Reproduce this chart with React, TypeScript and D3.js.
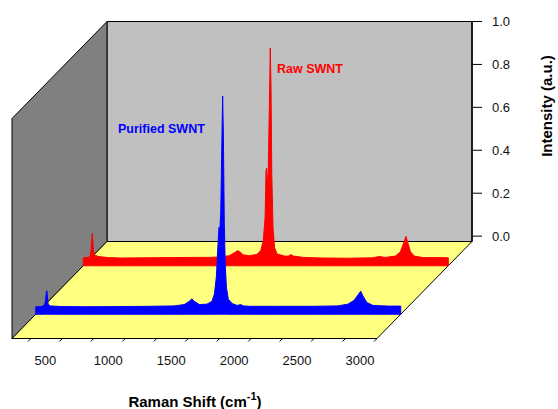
import * as d3 from 'd3'

// Raman spectra (shift in cm-1, intensity normalised)
const seriesNames = ['Purified SWNT', 'Raw SWNT']
const seriesColors = ['#0000ff', '#ff0000']

const purifiedShift = [
  100, 150, 170, 178, 184, 188, 192, 198, 210, 300, 500, 800, 1000, 1200, 1280, 1320, 1340, 1360,
  1400, 1460, 1500, 1520, 1535, 1548, 1556, 1562, 1570, 1578, 1585, 1591, 1598, 1606, 1615, 1630,
  1660, 1700, 1728, 1750, 1800, 2000, 2300, 2500, 2580, 2630, 2660, 2682, 2700, 2730, 2780, 2900, 3000,
]
const purifiedIntensity = [
  0.01, 0.011, 0.018, 0.04, 0.075, 0.085, 0.06, 0.025, 0.014, 0.011, 0.01, 0.011, 0.012, 0.014, 0.02, 0.035, 0.047, 0.035,
  0.02, 0.022, 0.035, 0.07, 0.15, 0.3, 0.38, 0.36, 0.45, 0.75, 0.992, 0.8, 0.4, 0.2, 0.1, 0.045,
  0.025, 0.016, 0.02, 0.014, 0.012, 0.012, 0.012, 0.014, 0.022, 0.04, 0.065, 0.082, 0.06, 0.03, 0.016, 0.013, 0.013,
]

const rawShift = [
  100, 140, 155, 163, 168, 172, 176, 182, 190, 220, 300, 400, 600, 800, 1000, 1100, 1200, 1260, 1300,
  1325, 1345, 1370, 1420, 1480, 1510, 1530, 1545, 1552, 1557, 1562, 1570, 1578, 1586, 1592, 1598, 1608,
  1620, 1640, 1700, 1730, 1750, 1770, 1850, 2000, 2200, 2400, 2450, 2500, 2580, 2620, 2645, 2664, 2680,
  2700, 2730, 2800, 2900, 3000,
]
const rawIntensity = [
  0.012, 0.014, 0.02, 0.05, 0.1, 0.126, 0.09, 0.04, 0.025, 0.018, 0.013, 0.011, 0.012, 0.013, 0.014, 0.014, 0.016, 0.022, 0.035,
  0.045, 0.04, 0.026, 0.022, 0.028, 0.045, 0.09, 0.2, 0.42, 0.43, 0.35, 0.42, 0.7, 0.99, 0.8, 0.4, 0.15,
  0.06, 0.03, 0.02, 0.02, 0.027, 0.02, 0.014, 0.011, 0.01, 0.012, 0.018, 0.014, 0.02, 0.04, 0.08, 0.112, 0.08,
  0.04, 0.02, 0.013, 0.013, 0.012,
]

const xMinorTicks = [250, 500, 750, 1000, 1250, 1500, 1750, 2000, 2250, 2500, 2750, 3000]
const xTickLabels = [500, 1000, 1500, 2000, 2500, 3000]
const yTickLabels = [0, 0.2, 0.4, 0.6, 0.8, 1.0]

const W = 558
const H = 409
const DX = 95 // depth offset of the back wall
const DY = -97

const x = d3.scaleLinear().domain([100, 3000]).range([12, 377])
const y = d3.scaleLinear().domain([-0.025, 1]).range([338.5, 118.5])
const z = d3.scalePoint<string>().domain(seriesNames).range([0, 1]).padding(0.5)

const proj = (v: number, i: number, depth: number): [number, number] => [
  x(v) + depth * DX,
  y(i) + depth * DY,
]

const poly = (pts: [number, number][]) => pts.map(p => p.join(',')).join(' ')

const series = [
  { name: seriesNames[0], color: seriesColors[0], shift: purifiedShift, intensity: purifiedIntensity },
  { name: seriesNames[1], color: seriesColors[1], shift: rawShift, intensity: rawIntensity },
]

export default function App() {
  const [x0, x1] = x.domain()
  const [i0, i1] = y.domain()

  const backWall = [proj(x0, i1, 1), proj(x1, i1, 1), proj(x1, i0, 1), proj(x0, i0, 1)]
  const leftWall = [proj(x0, i1, 0), proj(x0, i1, 1), proj(x0, i0, 1), proj(x0, i0, 0)]
  const floor = [proj(x0, i0, 0), proj(x0, i0, 1), proj(x1, i0, 1), proj(x1, i0, 0)]

  // back-to-front so the front spectrum covers the back one
  const ordered = [...series].reverse()

  return (
    <svg
      width={W}
      height={H}
      style={{ position: 'absolute', left: 0, top: 0, background: '#fff', fontFamily: 'Arial, "Liberation Sans", sans-serif' }}
    >
      <polygon points={poly(backWall)} fill="#c0c0c0" stroke="#000" strokeWidth={1} />
      <polygon points={poly(leftWall)} fill="#808080" stroke="#000" strokeWidth={1} />
      <polygon points={poly(floor)} fill="#ffff80" stroke="#000" strokeWidth={1} />

      {ordered.map(s => {
        const depth = z(s.name) ?? 0
        const pts = s.shift.map((v, k) => [v, s.intensity[k]] as [number, number])
        const area = d3
          .area<[number, number]>()
          .x(d => proj(d[0], 0, depth)[0])
          .y0(() => proj(0, i0, depth)[1])
          .y1(d => proj(0, d[1], depth)[1])
        return <path key={s.name} d={area(pts) ?? ''} fill={s.color} stroke={s.color} strokeWidth={1} />
      })}

      {/* y axis on the back right edge */}
      <line x1={proj(x1, i1, 1)[0]} y1={proj(x1, i1, 1)[1]} x2={proj(x1, i0, 1)[0]} y2={proj(x1, i0, 1)[1]} stroke="#000" strokeWidth={1.5} />
      {yTickLabels.map(t => {
        const [px, py] = proj(x1, t, 1)
        return (
          <g key={t}>
            <line x1={px} x2={px + 10} y1={py} y2={py} stroke="#000" strokeWidth={1} />
            <text x={px + 20} y={py} dy="0.35em" fontSize={13} fill="#111">
              {t.toFixed(1)}
            </text>
          </g>
        )
      })}
      <text
        transform="translate(552,106) rotate(-90)"
        textAnchor="middle"
        fontSize={15}
        fontWeight="bold"
        fill="#000"
      >
        Intensity (a.u.)
      </text>

      {/* x axis on the front edge */}
      {xMinorTicks.map(t => {
        const [px, py] = proj(t, i0, 0)
        return <line key={t} x1={px} y1={py} x2={px - 3} y2={py + 3} stroke="#000" strokeWidth={1} />
      })}
      {xTickLabels.map(t => {
        const [px, py] = proj(t, i0, 0)
        return (
          <text key={t} x={px - 17} y={py + 26} textAnchor="middle" fontSize={13} fill="#111">
            {t}
          </text>
        )
      })}
      <text x={195} y={407} textAnchor="middle" fontSize={15} fontWeight="bold" fill="#000">
        Raman Shift (cm
        <tspan dy={-7} fontSize={11}>-1</tspan>
        <tspan dy={7}>)</tspan>
      </text>

      {/* series labels */}
      <text x={118} y={133} fontSize={12.5} fontWeight="bold" fill={seriesColors[0]}>
        {seriesNames[0]}
      </text>
      <text x={277} y={73} fontSize={12.5} fontWeight="bold" fill={seriesColors[1]}>
        {seriesNames[1]}
      </text>
    </svg>
  )
}
